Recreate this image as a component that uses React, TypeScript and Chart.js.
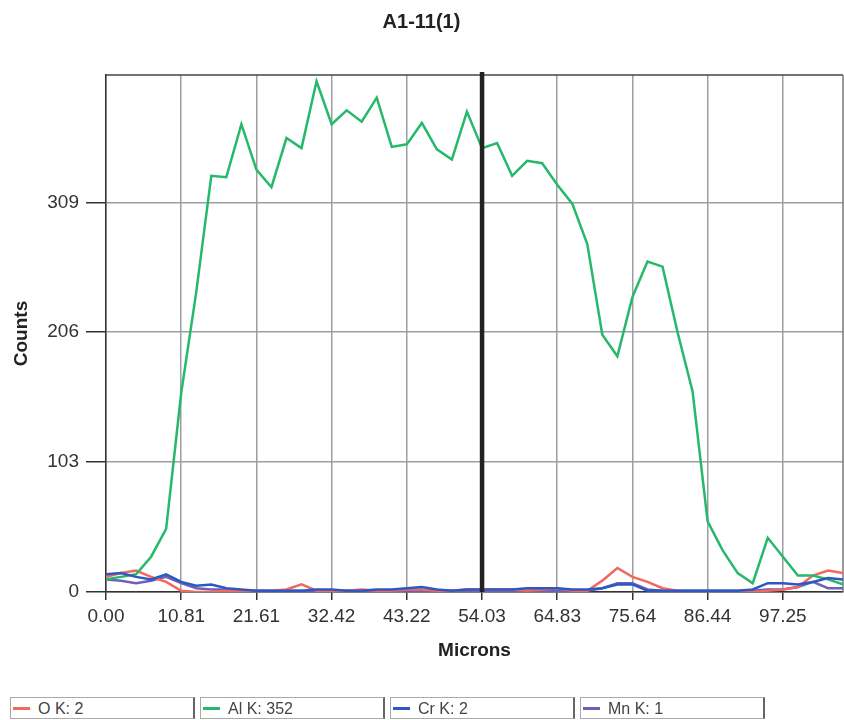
import React, { useEffect, useRef } from "react";
import { Chart, registerables } from "chart.js";

Chart.register(...registerables);

const TITLE = "A1-11(1)";
const X_LABEL = "Microns";
const Y_LABEL = "Counts";
const X_TICKS = ["0.00", "10.81", "21.61", "32.42", "43.22", "54.03", "64.83", "75.64", "86.44", "97.25"];
const Y_TICKS = [0, 103, 206, 309];
const Y_MAX = 410;
const CURSOR = 54.03;

const MICRONS = [
  0.0, 2.16, 4.32, 6.48, 8.64, 10.81, 12.97, 15.13, 17.29, 19.45,
  21.61, 23.77, 25.93, 28.09, 30.25, 32.42, 34.58, 36.74, 38.9, 41.06,
  43.22, 45.38, 47.54, 49.7, 51.86, 54.03, 56.19, 58.35, 60.51, 62.67,
  64.83, 66.99, 69.15, 71.31, 73.47, 75.64, 77.8, 79.96, 82.12, 84.28,
  86.44, 88.6, 90.76, 92.92, 95.08, 97.25, 99.41, 101.57, 103.73, 105.89,
];

const O_K = [
  12, 15, 17, 12, 8, 1, 0, 0, 1, 1,
  1, 1, 2, 6, 1, 1, 1, 2, 1, 1,
  2, 2, 1, 1, 2, 2, 2, 2, 1, 2,
  3, 1, 1, 9, 19, 12, 8, 3, 1, 0,
  0, 0, 0, 0, 1, 2, 4, 13, 17, 15,
];

const AL_K = [
  10, 12, 14, 28, 50, 158, 238, 330, 329, 371,
  335, 321, 360, 352, 405, 371, 382, 373, 392, 353,
  355, 372, 351, 343, 381, 352, 356, 330, 342, 340,
  323, 308, 276, 204, 187, 234, 262, 258, 206, 159,
  56, 33, 15, 7, 43, 28, 13, 13, 10, 6,
];

const CR_K = [
  14, 15, 12, 10, 14, 8, 5, 6, 3, 2,
  1, 1, 1, 1, 2, 2, 1, 1, 2, 2,
  3, 4, 2, 1, 2, 2, 2, 2, 3, 3,
  3, 2, 2, 3, 6, 6, 1, 1, 1, 1,
  1, 1, 1, 2, 7, 7, 6, 8, 11, 10,
];

const MN_K = [
  10, 9, 7, 9, 12, 7, 3, 2, 2, 1,
  1, 1, 1, 1, 1, 1, 1, 1, 1, 1,
  1, 1, 1, 1, 1, 1, 1, 1, 1, 1,
  1, 1, 1, 3, 7, 7, 2, 1, 1, 1,
  1, 1, 1, 1, 2, 2, 4, 8, 3, 3,
];

const SERIES_NAMES = ["O K", "Al K", "Cr K", "Mn K"];
const SERIES_DATA = [O_K, AL_K, CR_K, MN_K];
const SERIES_COLORS = ["#f2675f", "#27b96b", "#2d58c1", "#6b62b6"];
const SERIES_ORDER = [2, 1, 0, 3];

const FONT = "'Liberation Sans', Arial, Helvetica, sans-serif";

const cursorPlugin = {
  id: "cursorLine",
  afterDatasetsDraw(chart: any) {
    const { ctx, chartArea, scales } = chart;
    const x = scales.x.getPixelForValue(CURSOR);
    ctx.save();
    ctx.strokeStyle = "#222";
    ctx.lineWidth = 4.5;
    ctx.beginPath();
    ctx.moveTo(x, chartArea.top - 3);
    ctx.lineTo(x, chartArea.bottom);
    ctx.stroke();
    ctx.restore();
  },
};

const framePlugin = {
  id: "plotFrame",
  beforeDatasetsDraw(chart: any) {
    const { ctx, chartArea } = chart;
    ctx.save();
    ctx.strokeStyle = "#444";
    ctx.lineWidth = 1.5;
    ctx.beginPath();
    ctx.moveTo(chartArea.left, chartArea.top);
    ctx.lineTo(chartArea.right, chartArea.top);
    ctx.stroke();
    ctx.strokeStyle = "#777";
    ctx.beginPath();
    ctx.moveTo(chartArea.right, chartArea.top);
    ctx.lineTo(chartArea.right, chartArea.bottom);
    ctx.stroke();
    ctx.restore();
  },
};

export default function App() {
  const canvasRef = useRef<HTMLCanvasElement | null>(null);

  useEffect(() => {
    const canvas = canvasRef.current;
    if (!canvas) return;
    const datasets = SERIES_NAMES.map((name, i) => ({
      label: name,
      data: MICRONS.map((m, j) => ({ x: m, y: SERIES_DATA[i][j] })),
      borderColor: SERIES_COLORS[i],
      backgroundColor: SERIES_COLORS[i],
      borderWidth: 2.5,
      pointRadius: 0,
      tension: 0,
      order: SERIES_ORDER[i],
    }));

    const chart = new Chart(canvas, {
      type: "line",
      data: { datasets },
      plugins: [framePlugin, cursorPlugin],
      options: {
        animation: false,
        responsive: false,
        maintainAspectRatio: false,
        devicePixelRatio: 1,
        layout: { padding: { top: 0, right: 1, bottom: 0, left: 0 } },
        plugins: {
          legend: { display: false },
          tooltip: { enabled: false },
          title: {
            display: true,
            text: TITLE,
            color: "#222",
            font: { family: FONT, size: 20, weight: "bold" },
            padding: { top: 10, bottom: 41 },
          },
        },
        scales: {
          x: {
            type: "linear",
            min: 0,
            max: MICRONS[MICRONS.length - 1],
            afterBuildTicks: (scale: any) => {
              scale.ticks = X_TICKS.map((t) => ({ value: parseFloat(t) }));
            },
            afterFit: (scale: any) => {
              scale.height = 128;
            },
            ticks: {
              color: "#333",
              font: { family: FONT, size: 19 },
              padding: 5,
              maxRotation: 0,
              autoSkip: false,
              callback: (v: any) => Number(v).toFixed(2),
            },
            grid: {
              color: "#9d9da3",
              lineWidth: 1.5,
              tickColor: "#333",
              tickLength: 8,
              tickWidth: 1.5,
            },
            border: { color: "#333", width: 1.5 },
            title: {
              display: true,
              text: X_LABEL,
              color: "#222",
              font: { family: FONT, size: 19, weight: "bold" },
              padding: { top: 0, bottom: 58 },
            },
          },
          y: {
            type: "linear",
            min: 0,
            max: Y_MAX,
            afterBuildTicks: (scale: any) => {
              scale.ticks = Y_TICKS.map((t) => ({ value: t }));
            },
            afterFit: (scale: any) => {
              scale.width = 106;
            },
            ticks: {
              color: "#333",
              font: { family: FONT, size: 19 },
              padding: 7,
              autoSkip: false,
              callback: (v: any) => String(v),
            },
            grid: {
              color: "#9d9da3",
              lineWidth: 1.5,
              tickColor: "#333",
              tickLength: 20,
              tickWidth: 1.5,
            },
            border: { color: "#333", width: 1.5 },
            title: {
              display: true,
              text: Y_LABEL,
              color: "#222",
              font: { family: FONT, size: 19, weight: "bold" },
              padding: { top: 10, bottom: 0 },
            },
          },
        },
      },
    } as any);

    return () => chart.destroy();
  }, []);

  const cursorIndex = MICRONS.findIndex((m) => Math.abs(m - CURSOR) < 0.01);

  return (
    <div
      style={{
        position: "fixed",
        left: 0,
        top: 0,
        width: 844,
        height: 720,
        background: "#fff",
        overflow: "hidden",
      }}
    >
      <canvas ref={canvasRef} width={844} height={720} style={{ display: "block" }} />
      {SERIES_NAMES.map((name, i) => (
        <div
          key={name}
          style={{
            position: "absolute",
            left: 10 + i * 190,
            top: 697,
            width: 185,
            height: 22,
            boxSizing: "border-box",
            borderTop: "1px solid #aaa",
            borderLeft: "1px solid #aaa",
            borderRight: "2px solid #666",
            borderBottom: "1px solid #aaa",
            background: "#fff",
            fontFamily: FONT,
            fontSize: 16,
            color: "#444",
            lineHeight: "21px",
            whiteSpace: "nowrap",
          }}
        >
          <span
            style={{
              position: "absolute",
              left: 2,
              top: 9,
              width: 17,
              height: 3,
              background: SERIES_COLORS[i],
            }}
          />
          <span style={{ position: "absolute", left: 27, top: 0 }}>
            {name}: {SERIES_DATA[i][cursorIndex]}
          </span>
        </div>
      ))}
    </div>
  );
}
